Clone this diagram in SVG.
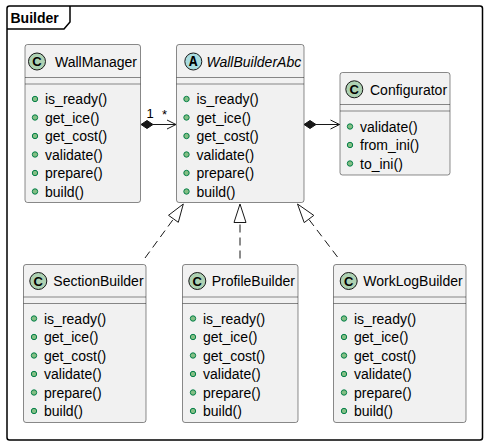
<svg xmlns="http://www.w3.org/2000/svg" width="488" height="445" viewBox="0 0 488 445">
<style>
.box{fill:#F1F1F1;stroke:#181818;stroke-width:0.5}
.sep{stroke:#181818;stroke-width:0.5}
.name{font-family:"Liberation Sans",Arial,sans-serif;font-size:14px;fill:#000}
.m{font-family:"Liberation Sans",Arial,sans-serif;font-size:14px;fill:#000}
.b{fill:#84BE84;stroke:#038048;stroke-width:1}
.cc{fill:#ADD1B2;stroke:#181818;stroke-width:1}
.ca{fill:#A9DCDF;stroke:#181818;stroke-width:1}
.cl{font-family:"Liberation Sans",Arial,sans-serif;font-size:13px;font-weight:bold;fill:#000}
.al{font-family:"Liberation Mono","Courier New",monospace;font-size:14px;font-weight:bold;fill:#000}
.ln{stroke:#181818;stroke-width:1;fill:none}
.dash{stroke:#181818;stroke-width:1;fill:none;stroke-dasharray:8,5}
.lbl{font-family:"Liberation Sans",Arial,sans-serif;font-size:13px;fill:#000}
</style>
<g id="package-Builder">
<rect x="7" y="6" width="475.5" height="434" rx="2.5" fill="none" stroke="#000" stroke-width="1.5"/>
<path d="M7,29 H64 L70,22 V6" fill="none" stroke="#000" stroke-width="1.5"/>
<text x="10.5" y="22.5" font-family="Liberation Sans,Arial,sans-serif" font-size="14" font-weight="bold">Builder</text>
</g>
<g id="connectors">
<line class="ln" x1="153" y1="124.5" x2="176" y2="124.5"/>
<polygon points="141,124.5 147,120.5 153,124.5 147,128.5" fill="#181818" stroke="#181818"/>
<polyline class="ln" points="167,120 176,124.5 167,129"/>
<text class="lbl" x="146.5" y="117.5">1</text>
<text class="lbl" x="162" y="119">*</text>
<line class="ln" x1="316" y1="124.5" x2="339.5" y2="124.5"/>
<polygon points="304,124.5 310,120.5 316,124.5 310,128.5" fill="#181818" stroke="#181818"/>
<polyline class="ln" points="330.5,120 339.5,124.5 330.5,129"/>
<line class="dash" x1="145" y1="258" x2="173.5" y2="219"/>
<polygon points="183.3,204 168.5,215.3 178.3,222.3" fill="none" stroke="#181818"/>
<line class="dash" x1="240" y1="258.5" x2="240" y2="222.5"/>
<polygon points="240,204 234,222.5 246,222.5" fill="none" stroke="#181818"/>
<line class="dash" x1="337.5" y1="257" x2="309" y2="219.5"/>
<polygon points="297.5,204 313.8,215.4 304.2,222.6" fill="none" stroke="#181818"/>
</g>
<g id="WallManager">
<rect class="box" x="25" y="44.5" width="115.5" height="158" rx="2.5"/>
<line class="sep" x1="25" y1="77.5" x2="140.5" y2="77.5"/>
<line class="sep" x1="25" y1="84" x2="140.5" y2="84"/>
<circle class="cc" cx="37" cy="61.5" r="8.5"/>
<text class="cl" x="37" y="66" text-anchor="middle">C</text>
<text class="name" x="55" y="66.5">WallManager</text>
<circle class="b" cx="35" cy="99" r="2.7"/><text class="m" x="45" y="104">is_ready()</text>
<circle class="b" cx="35" cy="117.5" r="2.7"/><text class="m" x="45" y="122.5">get_ice()</text>
<circle class="b" cx="35" cy="136" r="2.7"/><text class="m" x="45" y="141">get_cost()</text>
<circle class="b" cx="35" cy="154.5" r="2.7"/><text class="m" x="45" y="159.5">validate()</text>
<circle class="b" cx="35" cy="173" r="2.7"/><text class="m" x="45" y="178">prepare()</text>
<circle class="b" cx="35" cy="191.5" r="2.7"/><text class="m" x="45" y="196.5">build()</text>
</g>
<g id="WallBuilderAbc">
<rect class="box" x="176.5" y="44.5" width="127.5" height="158" rx="2.5"/>
<line class="sep" x1="176.5" y1="77.5" x2="304" y2="77.5"/>
<line class="sep" x1="176.5" y1="84" x2="304" y2="84"/>
<circle class="ca" cx="193.3" cy="61.5" r="8.5"/>
<text class="al" x="193.3" y="66" text-anchor="middle">A</text>
<text class="name" x="206.5" y="66.5" font-style="italic">WallBuilderAbc</text>
<circle class="b" cx="186.5" cy="99" r="2.7"/><text class="m" x="196.5" y="104">is_ready()</text>
<circle class="b" cx="186.5" cy="117.5" r="2.7"/><text class="m" x="196.5" y="122.5">get_ice()</text>
<circle class="b" cx="186.5" cy="136" r="2.7"/><text class="m" x="196.5" y="141">get_cost()</text>
<circle class="b" cx="186.5" cy="154.5" r="2.7"/><text class="m" x="196.5" y="159.5">validate()</text>
<circle class="b" cx="186.5" cy="173" r="2.7"/><text class="m" x="196.5" y="178">prepare()</text>
<circle class="b" cx="186.5" cy="191.5" r="2.7"/><text class="m" x="196.5" y="196.5">build()</text>
</g>
<g id="Configurator">
<rect class="box" x="340" y="72.5" width="110" height="102.5" rx="2.5"/>
<line class="sep" x1="340" y1="104.5" x2="450" y2="104.5"/>
<line class="sep" x1="340" y1="111" x2="450" y2="111"/>
<circle class="cc" cx="354.3" cy="89.3" r="8.5"/>
<text class="cl" x="354.3" y="94" text-anchor="middle">C</text>
<text class="name" x="370" y="94.5">Configurator</text>
<circle class="b" cx="350" cy="126.5" r="2.7"/><text class="m" x="360" y="131.5">validate()</text>
<circle class="b" cx="350" cy="145" r="2.7"/><text class="m" x="360" y="150">from_ini()</text>
<circle class="b" cx="350" cy="163.5" r="2.7"/><text class="m" x="360" y="168.5">to_ini()</text>
</g>
<g id="SectionBuilder">
<rect class="box" x="23.5" y="264.5" width="122.5" height="158" rx="2.5"/>
<line class="sep" x1="23.5" y1="297" x2="146" y2="297"/>
<line class="sep" x1="23.5" y1="303.5" x2="146" y2="303.5"/>
<circle class="cc" cx="38.3" cy="281" r="8.5"/>
<text class="cl" x="38.3" y="285.5" text-anchor="middle">C</text>
<text class="name" x="53.3" y="286">SectionBuilder</text>
<circle class="b" cx="34" cy="318.5" r="2.7"/><text class="m" x="44" y="323.5">is_ready()</text>
<circle class="b" cx="34" cy="337" r="2.7"/><text class="m" x="44" y="342">get_ice()</text>
<circle class="b" cx="34" cy="355.5" r="2.7"/><text class="m" x="44" y="360.5">get_cost()</text>
<circle class="b" cx="34" cy="374" r="2.7"/><text class="m" x="44" y="379">validate()</text>
<circle class="b" cx="34" cy="392.5" r="2.7"/><text class="m" x="44" y="397.5">prepare()</text>
<circle class="b" cx="34" cy="411" r="2.7"/><text class="m" x="44" y="416">build()</text>
</g>
<g id="ProfileBuilder">
<rect class="box" x="182.5" y="264.5" width="115.5" height="158" rx="2.5"/>
<line class="sep" x1="182.5" y1="297" x2="298" y2="297"/>
<line class="sep" x1="182.5" y1="303.5" x2="298" y2="303.5"/>
<circle class="cc" cx="197.3" cy="281" r="8.5"/>
<text class="cl" x="197.3" y="285.5" text-anchor="middle">C</text>
<text class="name" x="211.7" y="286">ProfileBuilder</text>
<circle class="b" cx="193" cy="318.5" r="2.7"/><text class="m" x="203" y="323.5">is_ready()</text>
<circle class="b" cx="193" cy="337" r="2.7"/><text class="m" x="203" y="342">get_ice()</text>
<circle class="b" cx="193" cy="355.5" r="2.7"/><text class="m" x="203" y="360.5">get_cost()</text>
<circle class="b" cx="193" cy="374" r="2.7"/><text class="m" x="203" y="379">validate()</text>
<circle class="b" cx="193" cy="392.5" r="2.7"/><text class="m" x="203" y="397.5">prepare()</text>
<circle class="b" cx="193" cy="411" r="2.7"/><text class="m" x="203" y="416">build()</text>
</g>
<g id="WorkLogBuilder">
<rect class="box" x="333.5" y="264.5" width="132.5" height="158" rx="2.5"/>
<line class="sep" x1="333.5" y1="297" x2="466" y2="297"/>
<line class="sep" x1="333.5" y1="303.5" x2="466" y2="303.5"/>
<circle class="cc" cx="348.7" cy="281" r="8.5"/>
<text class="cl" x="348.7" y="285.5" text-anchor="middle">C</text>
<text class="name" x="363.3" y="286">WorkLogBuilder</text>
<circle class="b" cx="344" cy="318.5" r="2.7"/><text class="m" x="354" y="323.5">is_ready()</text>
<circle class="b" cx="344" cy="337" r="2.7"/><text class="m" x="354" y="342">get_ice()</text>
<circle class="b" cx="344" cy="355.5" r="2.7"/><text class="m" x="354" y="360.5">get_cost()</text>
<circle class="b" cx="344" cy="374" r="2.7"/><text class="m" x="354" y="379">validate()</text>
<circle class="b" cx="344" cy="392.5" r="2.7"/><text class="m" x="354" y="397.5">prepare()</text>
<circle class="b" cx="344" cy="411" r="2.7"/><text class="m" x="354" y="416">build()</text>
</g>
</svg>
